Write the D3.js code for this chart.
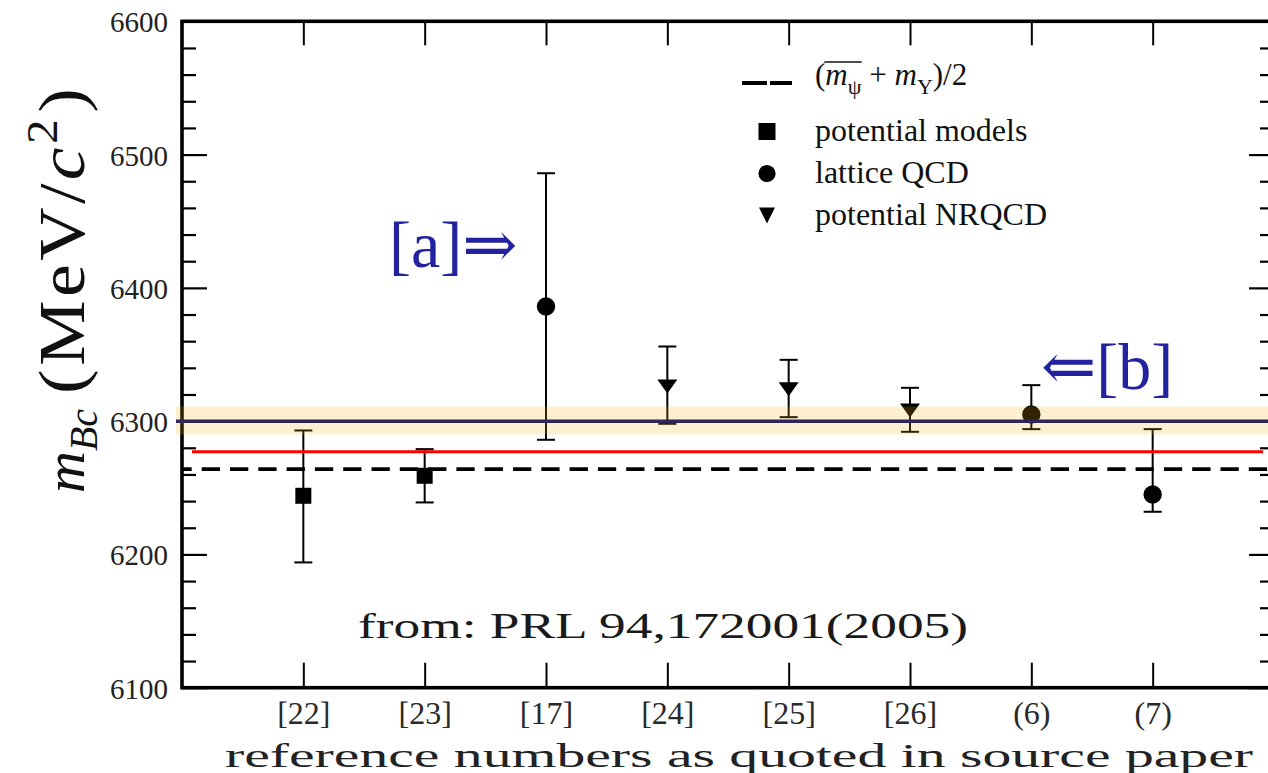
<!DOCTYPE html>
<html>
<head>
<meta charset="utf-8">
<script src="https://cdn.jsdelivr.net/npm/d3@7"></script>
<style>
  html, body { margin: 0; padding: 0; background: #fff; overflow: hidden; }
  text { font-family: "Liberation Serif", "DejaVu Serif", serif; }
</style>
</head>
<body>
<svg id="chart" width="1268" height="773"></svg>
<script>
// Bc meson mass: predictions by reference, with error bars
const categories = ["[22]", "[23]", "[17]", "[24]", "[25]", "[26]", "(6)", "(7)"];
const methods = ["potential models", "potential models", "lattice QCD",
                 "potential NRQCD", "potential NRQCD", "potential NRQCD",
                 "lattice QCD", "lattice QCD"];
const massValues  = [6244, 6259, 6386, 6326, 6324, 6308, 6305, 6245];
const lowerBounds = [6194, 6239, 6286, 6298, 6303, 6292, 6294, 6232];
const upperBounds = [6293, 6279, 6486, 6356, 6346, 6325, 6327, 6294];

const yTicks = [6100, 6200, 6300, 6400, 6500, 6600];
const yMinorTicks = [6120, 6140, 6160, 6180, 6220, 6240, 6260, 6280, 6320, 6340,
                     6360, 6380, 6420, 6440, 6460, 6480, 6520, 6540, 6560, 6580];
const legendLabels = ["potential models", "lattice QCD", "potential NRQCD"];

// reference mass levels
const averageQuarkonia = 6264;   // (m_psi + m_Upsilon)/2, dashed
const measuredMass = 6300;       // solid dark line
const measuredBand = [6290, 6311];
const redLevel = 6277;

const svg = d3.select("#chart");
const plotLeft = 182, plotRight = 1274, plotTop = 21.3, plotBottom = 687.7;

const x = d3.scaleLinear().domain([0, 9]).range([plotLeft, plotRight]);
const y = d3.scaleLinear().domain([6100, 6600]).range([plotBottom, plotTop]);

// ---- symbols ----
function triangleDown(ratio) {
  return {
    draw(ctx, w) {
      const h = w * ratio;
      ctx.moveTo(-w / 2, -h / 2);
      ctx.lineTo(w / 2, -h / 2);
      ctx.lineTo(0, h / 2);
      ctx.closePath();
    }
  };
}
const symbolFor = {
  "potential models": d3.symbol().type(d3.symbolSquare).size(16 * 16),
  "lattice QCD": d3.symbol().type(d3.symbolCircle).size(Math.PI * 9.2 * 9.2),
  "potential NRQCD": d3.symbol().type(triangleDown(0.7)).size(20)
};
const legendSymbolFor = {
  "potential models": d3.symbol().type(d3.symbolSquare).size(17 * 17),
  "lattice QCD": d3.symbol().type(d3.symbolCircle).size(Math.PI * 8.6 * 8.6),
  "potential NRQCD": d3.symbol().type(triangleDown(1.0)).size(16)
};

// ---- axes frame and ticks ----
const idx = d3.range(1, categories.length + 1);

function styleAxis(g, width) {
  g.select(".domain").remove();
  g.selectAll(".tick line").attr("stroke", "#000").attr("stroke-width", width);
}

svg.append("g").attr("transform", `translate(${plotLeft},0)`)
  .call(d3.axisLeft(y).tickValues(yMinorTicks).tickSize(-14).tickFormat(""))
  .call(g => styleAxis(g, 2.2));
const yAxisG = svg.append("g").attr("transform", `translate(${plotLeft},0)`)
  .call(d3.axisLeft(y).tickValues(yTicks).tickSize(-25).tickPadding(14).tickFormat(d3.format("d")))
  .call(g => styleAxis(g, 2.2));
yAxisG.selectAll(".tick text")
  .attr("font-family", "'Liberation Sans', Arial, sans-serif")
  .attr("font-size", 29).attr("fill", "#222").attr("dy", "0.36em");

svg.append("g").attr("transform", `translate(${plotRight},0)`)
  .call(d3.axisRight(y).tickValues(yMinorTicks).tickSize(-14).tickFormat(""))
  .call(g => styleAxis(g, 2.2));
svg.append("g").attr("transform", `translate(${plotRight},0)`)
  .call(d3.axisRight(y).tickValues(yTicks).tickSize(-25).tickFormat(""))
  .call(g => styleAxis(g, 2.2));

const xAxisG = svg.append("g").attr("transform", `translate(0,${plotBottom})`)
  .call(d3.axisBottom(x).tickValues(idx).tickSize(-25).tickPadding(14)
    .tickFormat(i => categories[i - 1]))
  .call(g => styleAxis(g, 2));
xAxisG.selectAll(".tick text")
  .attr("font-family", "'Liberation Serif', serif")
  .attr("font-size", 32).attr("fill", "#2a2a2a");

svg.append("g").attr("transform", `translate(0,${plotTop})`)
  .call(d3.axisTop(x).tickValues(idx).tickSize(-24).tickFormat(""))
  .call(g => styleAxis(g, 2));

svg.append("rect")
  .attr("x", plotLeft).attr("y", plotTop)
  .attr("width", plotRight - plotLeft).attr("height", plotBottom - plotTop)
  .attr("fill", "none").attr("stroke", "#000").attr("stroke-width", 3.6);

// ---- error bars and markers ----
const points = categories.map((c, i) => ({
  pos: i + 1, method: methods[i], v: massValues[i], lo: lowerBounds[i], hi: upperBounds[i]
}));

const bars = svg.append("g").attr("stroke", "#000").attr("stroke-width", 2);
bars.selectAll("line.stem").data(points).join("line").attr("class", "stem")
  .attr("x1", d => x(d.pos)).attr("x2", d => x(d.pos))
  .attr("y1", d => y(d.lo)).attr("y2", d => y(d.hi));
bars.selectAll("line.capHi").data(points).join("line").attr("class", "capHi")
  .attr("x1", d => x(d.pos) - 9).attr("x2", d => x(d.pos) + 9)
  .attr("y1", d => y(d.hi)).attr("y2", d => y(d.hi));
bars.selectAll("line.capLo").data(points).join("line").attr("class", "capLo")
  .attr("x1", d => x(d.pos) - 9).attr("x2", d => x(d.pos) + 9)
  .attr("y1", d => y(d.lo)).attr("y2", d => y(d.lo));

svg.append("g").selectAll("path").data(points).join("path")
  .attr("transform", d => `translate(${x(d.pos)},${y(d.v)})`)
  .attr("d", d => symbolFor[d.method]())
  .attr("fill", "#000");

// ---- measured band and reference lines ----
svg.append("rect")
  .attr("x", 176).attr("width", 1274 - 176)
  .attr("y", y(measuredBand[1])).attr("height", y(measuredBand[0]) - y(measuredBand[1]))
  .attr("fill", "rgb(245,180,20)").attr("fill-opacity", 0.2);

svg.append("line")
  .attr("x1", 176).attr("x2", 1274)
  .attr("y1", y(measuredMass)).attr("y2", y(measuredMass))
  .attr("stroke", "#2d2758").attr("stroke-width", 3.5);

svg.append("line")
  .attr("x1", plotLeft).attr("x2", plotRight)
  .attr("y1", y(averageQuarkonia)).attr("y2", y(averageQuarkonia))
  .attr("stroke", "#000").attr("stroke-width", 3.8)
  .attr("stroke-dasharray", "18.3 10").attr("stroke-dashoffset", 8.6);

svg.append("line")
  .attr("x1", 192).attr("x2", 1263)
  .attr("y1", y(redLevel)).attr("y2", y(redLevel))
  .attr("stroke", "#ff0000").attr("stroke-width", 3);

// ---- legend ----
const legend = svg.append("g");
legend.append("line").attr("x1", 742).attr("x2", 767).attr("y1", 83).attr("y2", 83)
  .attr("stroke", "#000").attr("stroke-width", 4);
legend.append("line").attr("x1", 770).attr("x2", 792).attr("y1", 83).attr("y2", 83)
  .attr("stroke", "#000").attr("stroke-width", 4);

const formula = legend.append("text").attr("x", 815).attr("y", 85)
  .attr("font-size", 31).attr("fill", "#111");
formula.append("tspan").text("(");
formula.append("tspan").attr("font-style", "italic").text("m");
formula.append("tspan").attr("font-size", 22).attr("dy", 9).text("ψ");
formula.append("tspan").attr("dy", -9).text(" + ");
formula.append("tspan").attr("font-style", "italic").text("m");
formula.append("tspan").attr("font-size", 22).attr("dy", 9).text("Υ");
formula.append("tspan").attr("dy", -9).text(")/2");
// bar over the first m
const mBox = formula.node().getExtentOfChar(1);
legend.append("line")
  .attr("x1", mBox.x - 1).attr("x2", mBox.x + mBox.width + 14)
  .attr("y1", 62).attr("y2", 62)
  .attr("stroke", "#111").attr("stroke-width", 1.6);

const legendRows = [131.5, 173.5, 215.5];
legendLabels.forEach((lab, i) => {
  legend.append("path")
    .attr("transform", `translate(767,${legendRows[i]})`)
    .attr("d", legendSymbolFor[lab]())
    .attr("fill", "#000");
  legend.append("text").attr("x", 815).attr("y", legendRows[i] + 9)
    .attr("font-size", 32).attr("fill", "#111").text(lab);
});

// ---- annotations ----
svg.append("text").attr("x", 389).attr("y", 267)
  .attr("font-size", 66).attr("fill", "#2323a0")
  .text("[a]⇒");
svg.append("text").attr("x", 1041).attr("y", 389)
  .attr("font-size", 66).attr("fill", "#2323a0")
  .text("⇐[b]");

svg.append("text").attr("x", 358).attr("y", 638)
  .attr("font-size", 35).attr("fill", "#1a1a1a")
  .attr("textLength", 610).attr("lengthAdjust", "spacingAndGlyphs")
  .text("from:  PRL 94,172001(2005)");

// ---- axis titles ----
svg.append("text").attr("x", 225).attr("y", 767)
  .attr("font-size", 33).attr("fill", "#222")
  .attr("textLength", 1028).attr("lengthAdjust", "spacingAndGlyphs")
  .text("reference numbers as quoted in source paper");

// vertical title: symbol part and unit part, rotated together
const yTitle = svg.append("g").attr("transform", "translate(84,493) rotate(-90)");
const ySym = yTitle.append("text").attr("font-size", 58).attr("fill", "#111");
ySym.append("tspan").attr("font-style", "italic").text("m");
ySym.append("tspan").attr("font-style", "italic").attr("font-size", 40).attr("dy", 13).text("Bc");
const symLen = ySym.node().getComputedTextLength();

const unitStart = symLen + 15;
const unitStretch = 1.12;
const yUnit = yTitle.append("text")
  .attr("transform", `translate(${unitStart},0) scale(${unitStretch},1)`)
  .attr("font-size", 66).attr("fill", "#111");
yUnit.append("tspan").text("(MeV/");
yUnit.append("tspan").attr("font-style", "italic").text("c");
yUnit.append("tspan").attr("font-size", 44).attr("dy", -27).text("2");
yUnit.append("tspan").attr("dx", 3).attr("dy", 27).text(")");
yUnit.attr("textLength", (405 - unitStart) / unitStretch).attr("lengthAdjust", "spacing");
</script>
</body>
</html>
